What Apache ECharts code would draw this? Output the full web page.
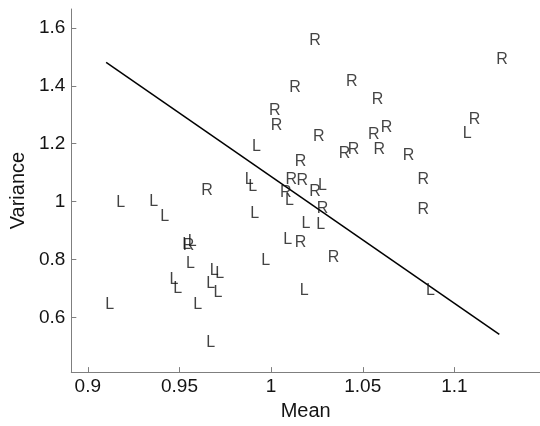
<!DOCTYPE html>
<html>
<head>
<meta charset="utf-8">
<script src="https://cdn.jsdelivr.net/npm/echarts@6/dist/echarts.min.js"></script>
<style>
  html, body { margin: 0; padding: 0; background: #fff; }
  #chart { width: 540px; height: 426px; }
</style>
</head>
<body>
<div id="chart"></div>
<script>
// --- data ---
const rPoints = [
    [1.024, 1.558], [1.126, 1.495], [1.044, 1.418], [1.013, 1.396], [1.058, 1.357],
    [1.002, 1.318], [1.003, 1.266], [1.026, 1.229], [1.063, 1.260], [1.056, 1.234],
    [1.111, 1.288], [1.040, 1.170], [1.045, 1.184], [1.059, 1.184], [1.075, 1.162],
    [1.083, 1.081], [1.083, 0.975], [1.016, 1.142], [1.011, 1.079], [1.017, 1.075],
    [1.024, 1.038], [0.965, 1.042], [1.008, 1.034], [1.028, 0.981], [1.016, 0.862],
    [1.034, 0.811], [0.955, 0.851]
];

const lPoints = [
    [1.107, 1.238], [1.028, 1.059], [0.988, 1.079], [0.990, 1.057], [0.992, 1.193],
    [1.010, 1.006], [0.991, 0.964], [1.019, 0.929], [1.027, 0.923], [1.009, 0.872],
    [1.018, 0.698], [0.967, 0.517], [0.997, 0.799], [0.969, 0.767], [0.972, 0.754],
    [0.967, 0.722], [0.971, 0.689], [0.960, 0.649], [0.947, 0.734], [0.949, 0.702],
    [0.956, 0.790], [0.954, 0.857], [0.957, 0.866], [0.912, 0.649], [0.918, 1.002],
    [0.936, 1.003], [0.942, 0.952], [1.087, 0.698]
];

const fitLine = [[0.910, 1.481], [1.1245, 0.542]];

const xTicks = [0.9, 0.95, 1, 1.05, 1.1];
const yTicks = [0.6, 0.8, 1, 1.2, 1.4, 1.6];

const chart = echarts.init(document.getElementById('chart'));
const axisGray = '#7f7f7f';
const textColor = '#141414';
const font = 'Liberation Sans, Arial, sans-serif';

function letterSeries(name, points) {
    return {
        name: name,
        type: 'scatter',
        data: points,
        symbol: 'circle',
        symbolSize: 1,
        itemStyle: { color: 'rgba(0,0,0,0)' },
        label: {
            show: true,
            position: 'inside',
            formatter: name,
            color: textColor,
            fontFamily: font,
            fontSize: 16,
            offset: [0, 1]
        },
        silent: true,
        z: 3
    };
}

const option = {
    animation: false,
    grid: { left: 69, right: 0, top: 9, bottom: 48 },
    xAxis: {
        type: 'value',
        min: 0.891,
        max: 1.1467,
        name: 'Mean',
        nameLocation: 'middle',
        nameGap: 28,
        nameTextStyle: { color: textColor, fontFamily: font, fontSize: 20 },
        axisLine: { show: true, onZero: false, lineStyle: { color: axisGray, width: 1 } },
        axisTick: { show: true, inside: true, length: 5, customValues: xTicks, lineStyle: { color: axisGray } },
        axisLabel: {
            customValues: xTicks,
            margin: 5,
            color: textColor,
            fontFamily: font,
            fontSize: 19,
            formatter: v => String(v)
        },
        splitLine: { show: false }
    },
    yAxis: {
        type: 'value',
        min: 0.412,
        max: 1.665,
        name: 'Variance',
        nameLocation: 'middle',
        nameGap: 33,
        nameTextStyle: { color: textColor, fontFamily: font, fontSize: 20 },
        axisLine: { show: true, onZero: false, lineStyle: { color: axisGray, width: 1 } },
        axisTick: { show: true, inside: true, length: 5, customValues: yTicks, lineStyle: { color: axisGray } },
        axisLabel: {
            customValues: yTicks,
            margin: 6,
            color: textColor,
            fontFamily: font,
            fontSize: 19,
            formatter: v => String(v)
        },
        splitLine: { show: false }
    },
    series: [
        letterSeries('R', rPoints),
        letterSeries('L', lPoints),
        {
            name: 'fit',
            type: 'line',
            data: fitLine,
            symbol: 'none',
            lineStyle: { color: '#000', width: 1.5 },
            silent: true,
            z: 2
        }
    ]
};

chart.setOption(option);
</script>
</body>
</html>
